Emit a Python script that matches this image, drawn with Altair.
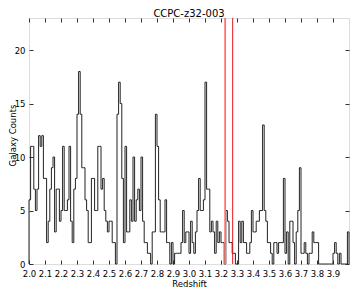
import altair as alt
import pandas as pd

title_text = ["CCPC-z32-003"]
x_title = "Redshift"
y_title = "Galaxy Counts"
z_min, z_max = 2.0, 4.0
bin_width = 0.01
y_max = 23

counts = [
    6, 11, 11, 7, 5, 7, 12, 11, 12, 8,
    8, 2, 4, 7, 9, 10, 3, 7, 7, 4,
    5, 11, 5, 5, 6, 11, 4, 2, 7, 8,
    14, 18, 14, 9, 9, 6, 5, 2, 2, 8,
    8, 5, 5, 11, 11, 7, 8, 5, 4, 3,
    4, 4, 2, 2, 0, 14, 17, 15, 8, 2,
    11, 3, 3, 6, 4, 10, 4, 6, 7, 5,
    10, 4, 2, 2, 1, 1, 0, 3, 3, 14,
    11, 6, 3, 3, 3, 6, 2, 2, 0, 2,
    0, 1, 1, 1, 1, 2, 5, 2, 3, 3,
    1, 4, 2, 1, 3, 5, 8, 5, 5, 6,
    17, 7, 7, 3, 4, 3, 1, 4, 2, 3,
    2, 2, 0, 5, 4, 2, 2, 1, 1, 0,
    0, 4, 2, 4, 2, 2, 1, 1, 2, 5,
    3, 3, 4, 4, 5, 5, 13, 5, 4, 2,
    2, 1, 0, 2, 2, 1, 2, 2, 2, 8,
    1, 3, 0, 4, 4, 2, 0, 3, 5, 9,
    1, 1, 2, 1, 0, 1, 1, 3, 2, 2,
    2, 0, 0, 0, 0, 0, 0, 0, 0, 0,
    1, 2, 1, 0, 1, 0, 0, 0, 0, 3,
]
x_ticks = [2.0, 2.1, 2.2, 2.3, 2.4, 2.5, 2.6, 2.7, 2.8, 2.9,
           3.0, 3.1, 3.2, 3.3, 3.4, 3.5, 3.6, 3.7, 3.8, 3.9]
y_ticks = [0, 5, 10, 15, 20]
cluster_z = [3.226, 3.273]
cluster_kind = ["a", "b"]

n = len(counts)
edges = [round(z_min + bin_width * k, 4) for k in range(n + 1)]
zs = [z_min] + edges[:n] + [edges[n], edges[n]]
ns = [0] + counts + [counts[-1], 0]
step_df = pd.DataFrame({"i": list(range(len(zs))), "z": zs, "n": ns})
rule_df = pd.DataFrame({"z": cluster_z, "kind": cluster_kind})
title_df = pd.DataFrame({"t": title_text})

W, H = 320, 246
FONT = "DejaVu Sans"

xs = alt.Scale(domain=[z_min, z_max], nice=False, zero=False)
ys = alt.Scale(domain=[0, y_max], nice=False)

common = dict(grid=False, domain=False, tickSize=4, offset=-4, tickColor="#333",
              tickWidth=1, labelFont=FONT, labelFontSize=8.5, labelColor="black",
              titleFont=FONT, titleFontSize=8.5, titleFontWeight="normal", titleColor="black",
              labelOverlap=False, labelFlush=False)

bottom_axis = alt.Axis(orient="bottom", values=x_ticks, format=".1f", title=x_title,
                       labelPadding=5, titleY=26, titleBaseline="alphabetic", **common)
left_axis = alt.Axis(orient="left", values=y_ticks, title=y_title, labelPadding=4,
                     titleX=-24.6, titleY=117, titleAngle=270, titleBaseline="top",
                     titleAlign="center", **common)
top_axis = alt.Axis(orient="top", values=x_ticks, labels=False, title=None, **common)
right_axis = alt.Axis(orient="right", values=y_ticks, labels=False, title=None, **common)

hist = alt.Chart(step_df).mark_line(interpolate="step-after", color="#222", strokeWidth=1).encode(
    x=alt.X("z:Q", scale=xs, axis=bottom_axis),
    y=alt.Y("n:Q", scale=ys, axis=left_axis),
    order=alt.Order("i:Q"),
)
hist2 = alt.Chart(step_df).mark_line(interpolate="step-after", strokeOpacity=0).encode(
    x=alt.X("z:Q", scale=xs, axis=top_axis),
    y=alt.Y("n:Q", scale=ys, axis=right_axis),
    order=alt.Order("i:Q"),
)
rules = alt.Chart(rule_df).mark_rule().encode(
    x=alt.X("z:Q", scale=xs, axis=None),
    color=alt.Color("kind:N", scale=alt.Scale(domain=cluster_kind, range=["#ff7070", "#e8141c"]), legend=None),
    strokeWidth=alt.StrokeWidth("kind:N", scale=alt.Scale(domain=cluster_kind, range=[1.8, 1.0]), legend=None),
)
title_mark = alt.Chart(title_df).mark_text(
    font=FONT, fontSize=10, baseline="alphabetic", align="center", color="black"
).encode(text="t:N", x=alt.value(W / 2), y=alt.value(-0.6))

chart = alt.layer(hist, hist2, rules, title_mark).resolve_axis(
    x="independent", y="independent").properties(
    width=W, height=H,
    autosize=alt.AutoSizeParams(type="none"),
    padding={"left": 21, "top": 10, "right": 1, "bottom": 23},
).configure_view(stroke="black", strokeWidth=1).configure(font=FONT)

chart.save("out.html", embed_options={"renderer": "svg", "actions": False})
